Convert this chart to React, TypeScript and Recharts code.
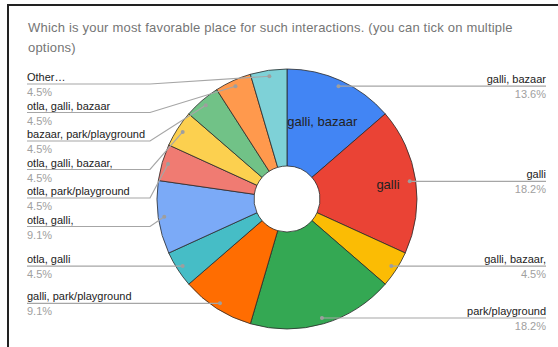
import { Cell, Pie, PieChart } from 'recharts';

const categories = [
  'galli, bazaar',
  'galli',
  'galli, bazaar,',
  'park/playground',
  'galli, park/playground',
  'otla, galli',
  'otla, galli,',
  'otla, park/playground',
  'otla, galli, bazaar,',
  'bazaar, park/playground',
  'otla, galli, bazaar',
  'Other…',
];
const counts = [3, 4, 1, 4, 2, 1, 2, 1, 1, 1, 1, 1];
const colors = [
  '#4285F4',
  '#EA4335',
  '#FBBC04',
  '#34A853',
  '#FF6D01',
  '#46BDC6',
  '#7BAAF7',
  '#F07B72',
  '#FCD04F',
  '#71C287',
  '#FF994D',
  '#7ED1D7',
];
const title =
  'Which is your most favorable place for such interactions. (you can tick on multiple options)';

// slices that also carry a name inside, with the radius of that text
const insideRadius: Record<string, number> = { 'galli, bazaar': 85, galli: 102 };

const CX = 287;
const CY = 199;
const OUTER = 130;
const INNER = 33;
const DOT_INSET = 6;
const LEFT_X = 27;
const RIGHT_X = 546;
const LABEL_GAP = 28.5;
const LABEL_TOP = 84;

const total = counts.reduce((a, b) => a + b, 0);
const data = categories.map((name, i) => ({ name, value: counts[i] }));

// stack the label rows so they don't collide (same angles as the pie)
const labelY: number[] = (() => {
  let cum = 0;
  const rows = counts.map((v, i) => {
    const mid = 90 - ((cum + v / 2) / total) * 360;
    cum += v;
    const rad = (mid * Math.PI) / 180;
    return { i, left: Math.cos(rad) < 0, y: CY - (OUTER - DOT_INSET) * Math.sin(rad) };
  });
  const out: number[] = [];
  rows.filter((r) => !r.left).forEach((r) => (out[r.i] = r.y));
  let prev = LABEL_TOP - LABEL_GAP;
  rows
    .filter((r) => r.left)
    .sort((a, b) => a.y - b.y)
    .forEach((r) => {
      const y = Math.max(r.y, prev + LABEL_GAP);
      out[r.i] = y;
      prev = y;
    });
  return out;
})();

function renderLabel(p: any) {
  const { cx, cy, midAngle, outerRadius, index, value, name } = p;
  const rad = (-midAngle * Math.PI) / 180;
  const dx = cx + (outerRadius - DOT_INSET) * Math.cos(rad);
  const dy = cy + (outerRadius - DOT_INSET) * Math.sin(rad);
  const left = Math.cos(rad) < 0;
  const ly = labelY[index];
  const pct = `${((value / total) * 100).toFixed(1)}%`;
  const points = left
    ? `${LEFT_X},${ly} 150,${ly} ${dx},${dy}`
    : `${dx},${dy} ${Math.max(dx, 423)},${ly} ${RIGHT_X},${ly}`;
  const tx = left ? LEFT_X : RIGHT_X;
  const anchor = left ? 'start' : 'end';
  const ir = insideRadius[name];
  return (
    <g key={`lbl-${index}`}>
      {ir !== undefined && (
        <text
          x={cx + ir * Math.cos(rad)}
          y={cy + ir * Math.sin(rad)}
          textAnchor="middle"
          dominantBaseline="central"
          fontSize={13}
          fill="#222"
        >
          {name}
        </text>
      )}
      <polyline points={points} fill="none" stroke="#a6a6a6" strokeWidth={1.2} />
      <circle cx={dx} cy={dy} r={2} fill="#9e9e9e" />
      <text x={tx} y={ly - 3} textAnchor={anchor} fontSize={11} fill="#222">
        {name}
      </text>
      <text x={tx} y={ly + 12} textAnchor={anchor} fontSize={11} fill="#a0a0a0">
        {pct}
      </text>
    </g>
  );
}

export default function App() {
  return (
    <div
      style={{
        position: 'absolute',
        left: 0,
        top: 0,
        width: 558,
        height: 347,
        overflow: 'hidden',
        background: '#fff',
        fontFamily: 'Arial, "Liberation Sans", sans-serif',
      }}
    >
      <div
        style={{
          position: 'absolute',
          left: 7,
          top: 4,
          width: 600,
          height: 400,
          borderLeft: '2px solid #222',
          borderTop: '2px solid #222',
        }}
      />
      <div
        style={{
          position: 'absolute',
          left: 28,
          top: 18,
          width: 500,
          fontSize: 13,
          letterSpacing: 0.2,
          lineHeight: '20px',
          color: '#757575',
        }}
      >
        {title}
      </div>
      <div style={{ position: 'absolute', left: 0, top: 0 }}>
        <PieChart width={558} height={347} margin={{ top: 0, right: 0, bottom: 0, left: 0 }}>
          <Pie
            data={data}
            dataKey="value"
            nameKey="name"
            cx={CX}
            cy={CY}
            innerRadius={INNER}
            outerRadius={OUTER}
            startAngle={90}
            endAngle={-270}
            stroke="#2a2a2a"
            strokeWidth={0.8}
            label={renderLabel}
            labelLine={false}
            isAnimationActive={false}
          >
            {data.map((d, i) => (
              <Cell key={d.name} fill={colors[i]} />
            ))}
          </Pie>
        </PieChart>
      </div>
    </div>
  );
}
